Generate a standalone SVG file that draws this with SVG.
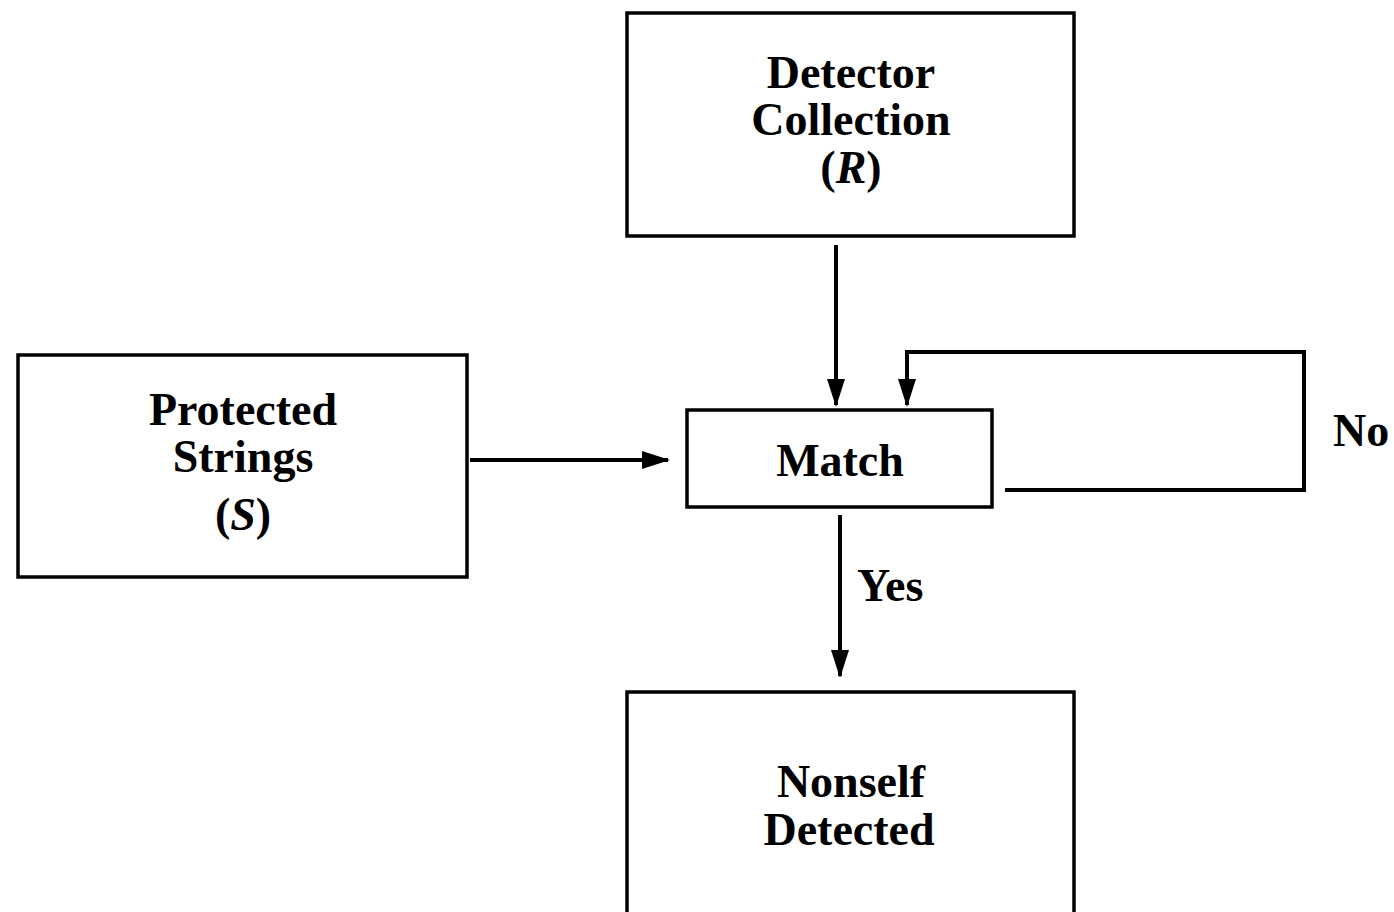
<svg xmlns="http://www.w3.org/2000/svg" width="1394" height="912" viewBox="0 0 1394 912">
<style>
.box{fill:#fff;stroke:#000;stroke-width:3.5}
.t{font-family:"Liberation Serif","Times New Roman",serif;font-weight:bold;font-size:46px;text-anchor:middle;fill:#000}
.l{font-family:"Liberation Serif","Times New Roman",serif;font-weight:bold;font-size:46px;fill:#000}
.c{fill:none;stroke:#000;stroke-width:4}
</style>
<defs>
<marker id="ah" markerWidth="28" markerHeight="18" refX="26" refY="9" viewBox="0 0 28 18" orient="auto" markerUnits="userSpaceOnUse">
<path d="M0,0 L28,9 L0,18 Z" fill="#000"/>
</marker>
</defs>
<rect width="1394" height="912" fill="#fff"/>
<g id="detector">
<rect class="box" x="627" y="13" width="447" height="223"/>
<text class="t" x="851" y="88">Detector</text>
<text class="t" x="851" y="135">Collection</text>
<text class="t" x="851" y="183">(<tspan font-style="italic">R</tspan>)</text>
</g>
<g id="protected">
<rect class="box" x="18" y="355" width="449" height="222"/>
<text class="t" x="243" y="425">Protected</text>
<text class="t" x="243" y="472">Strings</text>
<text class="t" x="243" y="530">(<tspan font-style="italic">S</tspan>)</text>
</g>
<g id="match">
<rect class="box" x="687" y="410" width="305" height="97"/>
<text class="t" x="840" y="476">Match</text>
</g>
<g id="nonself">
<rect class="box" x="627" y="692" width="447" height="240"/>
<text class="t" x="851" y="797">Nonself</text>
<text class="t" x="849" y="845">Detected</text>
</g>
<g id="connectors">
<line class="c" x1="836" y1="245" x2="836" y2="405" marker-end="url(#ah)"/>
<line class="c" x1="470" y1="460" x2="668" y2="460" marker-end="url(#ah)"/>
<polyline class="c" points="1005,490 1304,490 1304,352 907,352 907,405" marker-end="url(#ah)"/>
<line class="c" x1="840" y1="515" x2="840" y2="676" marker-end="url(#ah)"/>
<text class="l" x="1333" y="446">No</text>
<text class="l" x="857" y="601">Yes</text>
</g>
</svg>
